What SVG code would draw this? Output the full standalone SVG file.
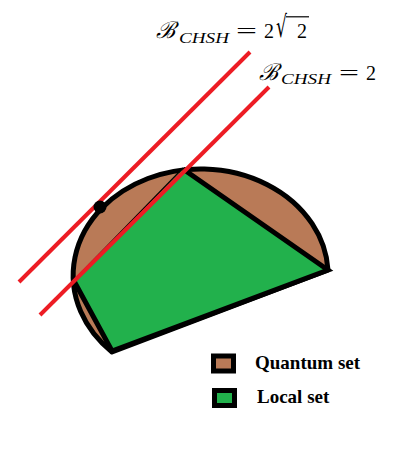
<svg xmlns="http://www.w3.org/2000/svg" width="412" height="454" viewBox="0 0 412 454">
  <style>
    .math { font-family: "Liberation Serif", "DejaVu Serif", serif; fill: #000; }
    .it { font-style: italic; }
    .leg { font-family: "Liberation Serif", "Times New Roman", serif; font-weight: bold; font-size: 19px; fill: #000; }
    .red { stroke: #ED1C24; stroke-width: 4; fill: none; }
  </style>
  <rect width="412" height="454" fill="#fff"/>
  <g id="quantum-set">
    <path d="M 328 270 A 127.5 106.5 0 1 0 112 352 Z" fill="#B97A57" stroke="#000" stroke-width="5" stroke-linejoin="round"/>
  </g>
  <g id="local-set">
    <polygon points="183,169 328,270 112,351 74,281" fill="#22B14C"/>
    <polyline points="183,169 328,270 112,351 74,281" fill="none" stroke="#000" stroke-width="5" stroke-linejoin="miter"/>
    <line x1="74" y1="280" x2="183" y2="168" stroke="#000" stroke-width="1.2"/>
  </g>
  <g id="bounds">
    <line class="red" x1="19" y1="282" x2="250" y2="52"/>
    <line class="red" x1="40" y1="315" x2="269" y2="87"/>
    <circle cx="100" cy="207" r="6.5" fill="#000"/>
  </g>
  <g id="label-quantum-bound">
    <text class="math it" x="156" y="38" font-size="23">ℬ</text>
    <text class="math it" x="179" y="43" font-size="15" textLength="50" lengthAdjust="spacingAndGlyphs">CHSH</text>
    <text class="math" x="236" y="38" font-size="22" textLength="21" lengthAdjust="spacingAndGlyphs">=</text>
    <text class="math" x="264" y="38" font-size="20">2</text>
    <text x="276" y="37" font-family="DejaVu Serif, serif" font-size="30" textLength="11" lengthAdjust="spacingAndGlyphs">√</text>
    <line x1="286" y1="16.8" x2="309" y2="16.8" stroke="#000" stroke-width="1.2"/>
    <text class="math" x="297" y="38" font-size="20">2</text>
  </g>
  <g id="label-local-bound">
    <text class="math it" x="259" y="80" font-size="23">ℬ</text>
    <text class="math it" x="281" y="84" font-size="15" textLength="50" lengthAdjust="spacingAndGlyphs">CHSH</text>
    <text class="math" x="339" y="80" font-size="22" textLength="20" lengthAdjust="spacingAndGlyphs">=</text>
    <text class="math" x="366" y="80" font-size="20">2</text>
  </g>
  <g id="legend">
    <rect x="213.5" y="356" width="20" height="15" fill="#B97A57" stroke="#000" stroke-width="5"/>
    <text class="leg" x="255" y="369">Quantum set</text>
    <rect x="214.5" y="390.5" width="20" height="15" fill="#22B14C" stroke="#000" stroke-width="5"/>
    <text class="leg" x="257" y="403">Local set</text>
  </g>
</svg>
